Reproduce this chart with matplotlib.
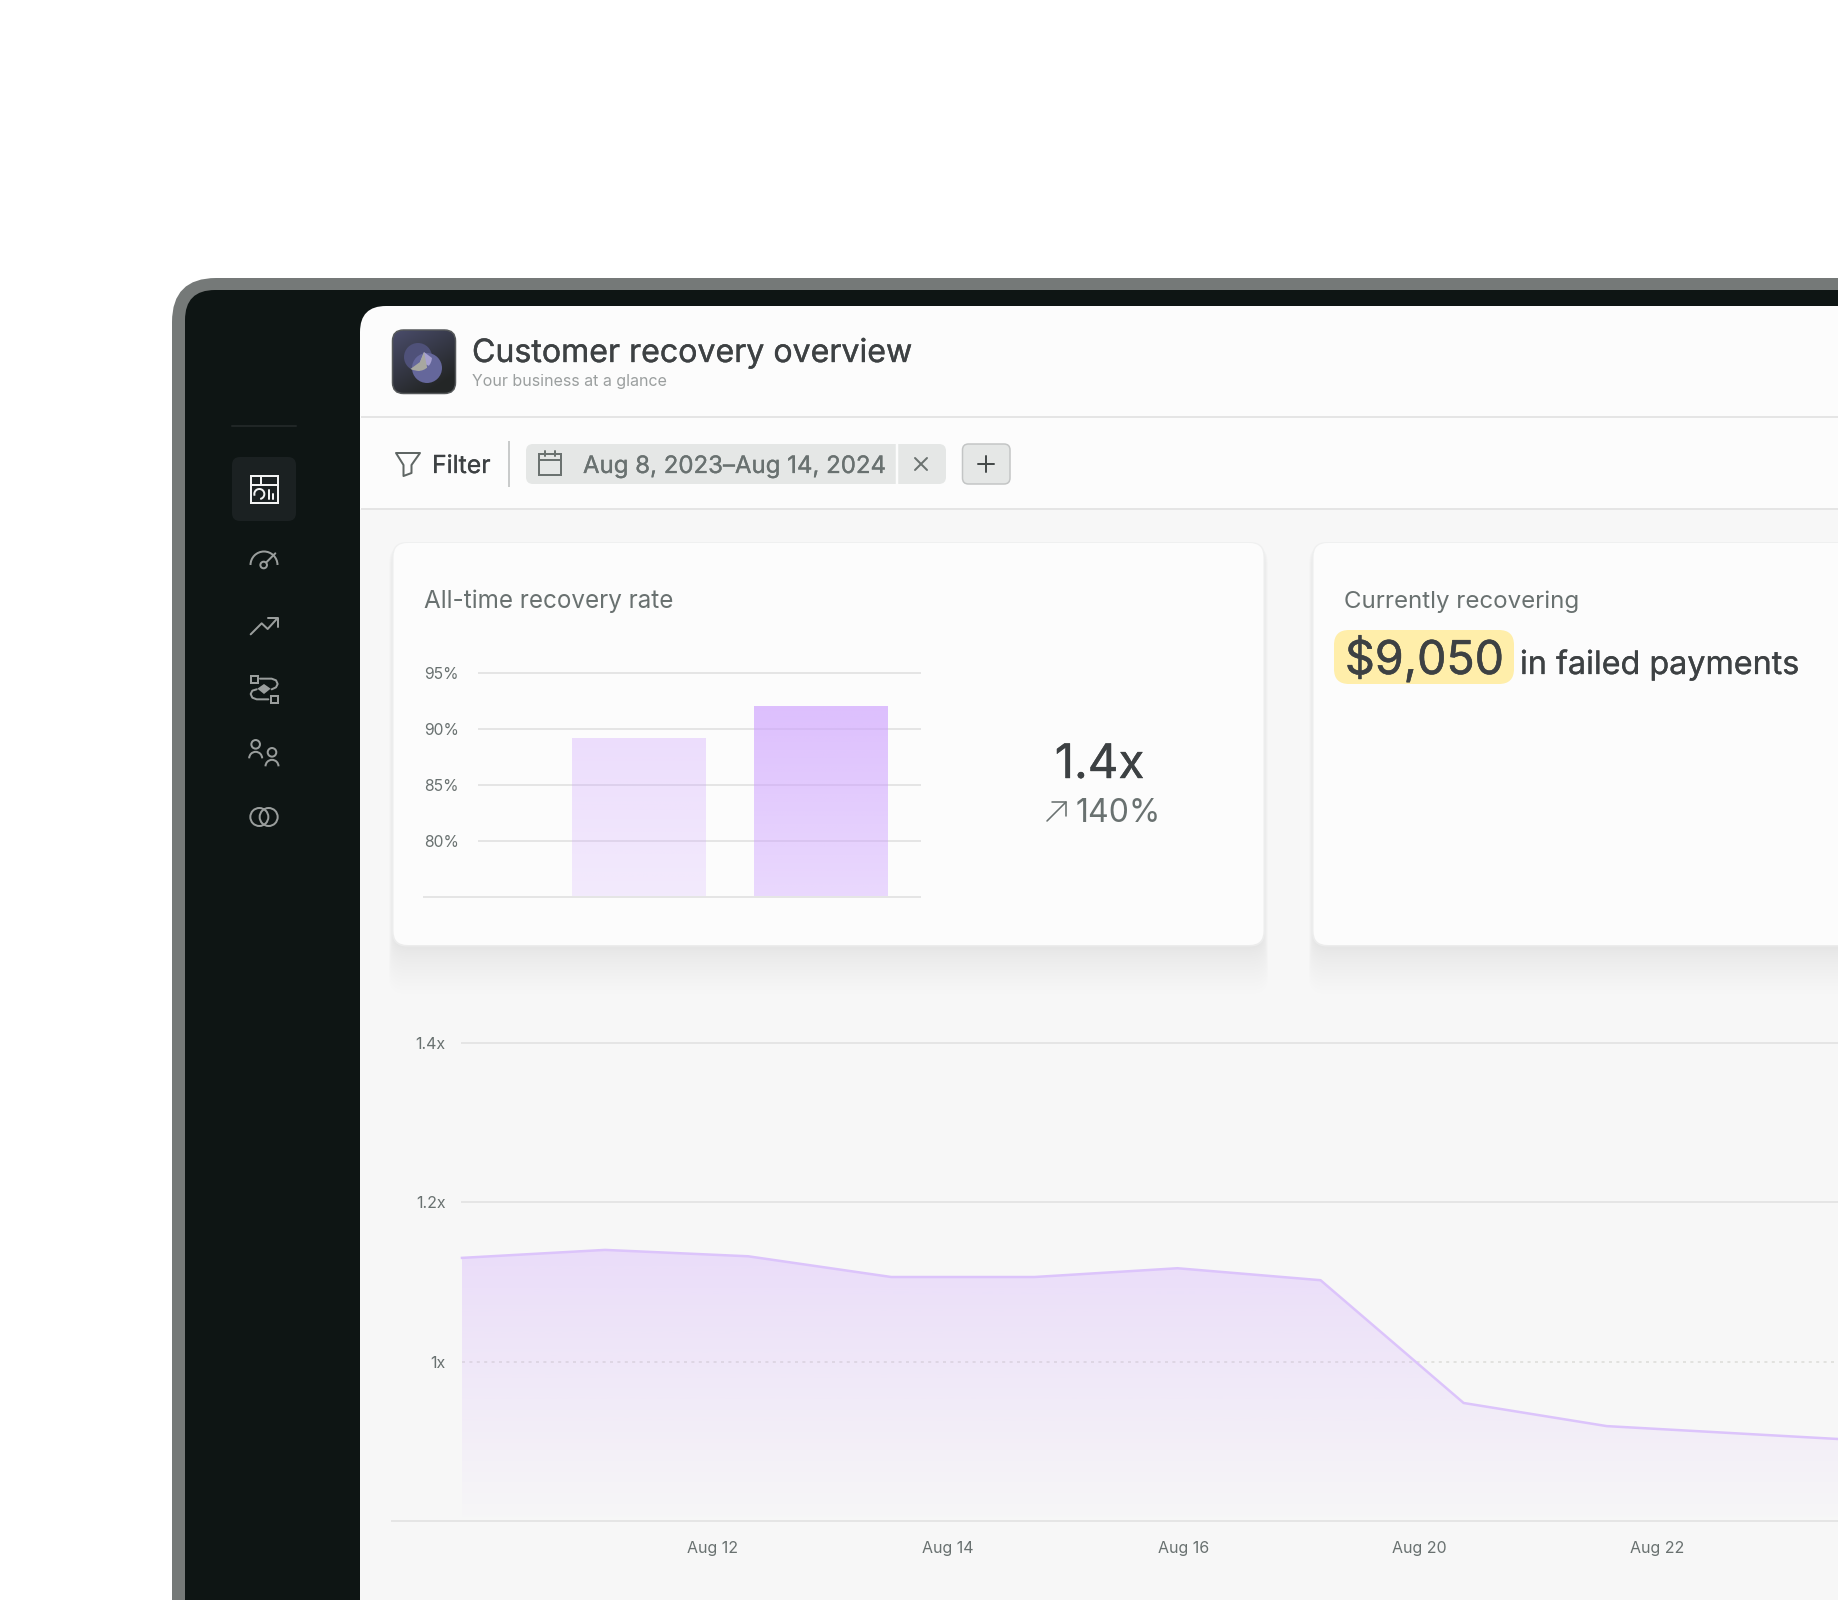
import matplotlib
matplotlib.use('Agg')
import matplotlib.pyplot as plt
from matplotlib.patches import FancyBboxPatch, Circle, Arc, Rectangle, Polygon
from matplotlib import patheffects
import numpy as np

plt.rcParams['font.family'] = ['Inter', 'DejaVu Sans']

W, H = 1838, 1600

# bar chart values
rate_ticks = [80, 85, 90, 95]
rate_labels = ['80%', '85%', '90%', '95%']
rate_bars = [89.15, 92.05]

# area chart values
multiplier = [1.130, 1.140, 1.132, 1.106, 1.106, 1.117, 1.102, 0.948, 0.919, 0.909, 0.899]
mult_ticks = [1.0, 1.2, 1.4]
mult_labels = ['1x', '1.2x', '1.4x']
date_labels = ['Aug 12', 'Aug 14', 'Aug 16', 'Aug 20', 'Aug 22']
date_ticks = [1.752, 3.392, 5.04, 6.69, 8.355]

INK = '#3d4143'
MUTED = '#697170'
GRID = '#e5e5e5'
ICON = '#9a9e9d'
PURPLE = (0.80, 0.62, 1.0)


def px(size):
    return size * 0.72


def rrect(ax, x0, y0, x1, y1, r, fc, ec='none', lw=0, alpha=None, z=1):
    p = FancyBboxPatch((x0, y0), x1 - x0, y1 - y0, boxstyle=f'round,pad=0,rounding_size={r}',
                       fc=fc, ec=ec, lw=lw, alpha=alpha, zorder=z)
    ax.add_patch(p)
    return p


def label(ax, x, y, s, size, color, ha='left', z=5, heavy=0.0):
    t = ax.text(x, y, s, fontsize=px(size), color=color, ha=ha, va='baseline', zorder=z)
    if heavy:
        t.set_path_effects([patheffects.withStroke(linewidth=heavy, foreground=color)])
    return t


def stroke(ax, xs, ys, color=ICON, lw=2.0, z=5):
    ax.plot(xs, ys, color=color, lw=px(lw), solid_capstyle='round', solid_joinstyle='round', zorder=z)


def panel_axes(fig, x0, y0, x1, y1):
    a = fig.add_axes([x0 / W, 1 - y1 / H, (x1 - x0) / W, (y1 - y0) / H])
    a.patch.set_alpha(0)
    for s in ['top', 'left', 'right']:
        a.spines[s].set_visible(False)
    a.spines['bottom'].set_color(GRID)
    a.spines['bottom'].set_linewidth(px(2))
    return a


def gradient(ax, path, trans, extent, top, bottom, z=2):
    arr = np.linspace(top, bottom, 256)[:, None, :]
    im = ax.imshow(arr, extent=extent, aspect='auto', origin='upper', zorder=z)
    im.set_clip_path(path, trans)
    return im


def draw_icons(ui):
    # coordinates follow the 3x zoom of the sidebar
    zx = lambda v: 220 + np.asarray(v) / 3
    zy = lambda v: 410 + np.asarray(v) / 3

    # dashboard
    white = '#f2f3f3'
    ui.add_patch(Rectangle((zx(92), zy(198)), 27, 27, fc='none', ec=white, lw=px(2), zorder=5))
    stroke(ui, zx([92, 172]), zy([224, 224]), white)
    stroke(ui, zx([122, 122]), zy([198, 224]), white)
    ui.add_patch(Arc((zx(118), zy(252)), 10, 10, theta1=-200, theta2=80, color=white, lw=px(2), zorder=5))
    stroke(ui, zx([148, 148]), zy([240, 266]), white)
    stroke(ui, zx([160, 160]), zy([252, 266]), white)

    # gauge
    ui.add_patch(Arc((zx(132), zy(465)), 27, 27, theta1=180, theta2=360, color=ICON, lw=px(2), zorder=5))
    ui.add_patch(Circle((zx(131), zy(465)), 3.3, fc='#0e1514', ec=ICON, lw=px(2), zorder=6))
    stroke(ui, zx([136, 166]), zy([460, 430]))

    # trend
    stroke(ui, zx([92, 125, 143, 172]), zy([673, 640, 657, 625]))
    stroke(ui, zx([145, 173, 173]), zy([623, 623, 652]))

    # flow
    for qx, qy in [(92, 798), (152, 858)]:
        ui.add_patch(Rectangle((zx(qx), zy(qy)), 7, 7, fc='none', ec=ICON, lw=px(2), zorder=5))
    ui.add_patch(Polygon(np.column_stack([zx([112, 132, 152, 132]), zy([836, 822, 836, 852])]), fc=ICON, ec='none', zorder=5))
    stroke(ui, zx([120, 155, 168, 173, 168, 155]), zy([806, 806, 811, 822, 832, 838]))
    stroke(ui, zx([145, 110, 97, 92, 97, 110]), zy([868, 868, 863, 852, 842, 838]))

    # people
    for cx, cy in [(107, 1003), (156, 1027)]:
        ui.add_patch(Circle((zx(cx), zy(cy)), 4.3, fc='none', ec=ICON, lw=px(2), zorder=5))
        ui.add_patch(Arc((zx(cx), zy(cy + 42)), 13, 13, theta1=180, theta2=360, color=ICON, lw=px(2), zorder=5))

    # rings
    for cx in [118, 146]:
        ui.add_patch(Circle((zx(cx), zy(1221)), 9, fc='none', ec=ICON, lw=px(2), zorder=5))


def draw_logo(ui):
    box = rrect(ui, 392.5, 330, 455.5, 393.5, 11, 'none', ec='#55585a', lw=px(1.5), z=4)
    # diagonal wash: blue at top left, near black at bottom right
    u, v = np.meshgrid(np.linspace(0, 1, 64), np.linspace(0, 1, 64))
    t = np.clip((u * 0.6 + v) / 1.3, 0, 1)[..., None]
    arr = (1 - t) * np.array([0.29, 0.30, 0.42]) + t * np.array([0.14, 0.15, 0.15])
    im = ui.imshow(arr, extent=(392, 456, 394, 330), aspect='auto', zorder=3)
    im.set_clip_path(box)
    c1 = Circle((418, 357), 14, fc='#4f5179', zorder=4)
    c2 = Circle((427, 368), 15, fc='#65679b', zorder=4)
    ui.add_patch(c1)
    ui.add_patch(c2)
    # overlap of the two discs, grey on the left and lilac on the right
    gray = Polygon([(420, 362), (409, 370), (428, 372), (424, 352)], fc='#a8a8a0', zorder=5)
    lilac = Polygon([(420, 362), (424, 352), (432, 358), (434, 368)], fc='#a6a0cf', zorder=5)
    ui.add_patch(lilac)
    ui.add_patch(gray)
    overlap = Circle((418, 357), 14, transform=ui.transData)
    gray.set_clip_path(overlap)
    lilac.set_clip_path(overlap)


def draw_ui(ui):
    # device frame
    rrect(ui, 172, 278, 2300, 2100, 44, '#757978')
    rrect(ui, 185, 290, 2300, 2100, 30, '#0e1514')
    rrect(ui, 360, 306, 2300, 2100, 26, '#fcfcfc')
    ui.add_patch(Rectangle((360, 509), 1600, 1200, fc='#f7f7f7', zorder=1))

    # sidebar
    ui.plot([232, 296], [425.5, 425.5], color='#262c2c', lw=px(1.5), zorder=2)
    rrect(ui, 232, 457, 296, 521, 8, '#1b2122', z=2)
    draw_icons(ui)

    # header
    draw_logo(ui)
    label(ui, 472, 362, 'Customer recovery overview', 32.1, INK, heavy=0.25)
    label(ui, 472, 386, 'Your business at a glance', 16, '#9b9f9f')
    ui.plot([361, W], [417, 417], color=GRID, lw=px(2), solid_capstyle='butt', zorder=2)
    ui.plot([361, W], [509, 509], color=GRID, lw=px(2), solid_capstyle='butt', zorder=2)

    # filter row
    funnel = [(396, 453), (420, 453), (411.5, 465), (411.5, 473), (403.5, 476), (403.5, 465)]
    ui.add_patch(Polygon(funnel, closed=True, fc='none', ec='#5f6664', lw=px(2), joinstyle='round', zorder=5))
    label(ui, 432, 473, 'Filter', 24.8, INK, heavy=0.2)
    ui.plot([509, 509], [442, 486], color='#c9cbcb', lw=px(2), zorder=2)
    rrect(ui, 526, 444, 946, 484, 7, '#e5e7e6', z=2)
    ui.plot([897, 897], [444, 484], color='#fcfcfc', lw=px(2.5), solid_capstyle='butt', zorder=3)
    ui.add_patch(Rectangle((539, 454), 22, 21, fc='none', ec='#6b7270', lw=px(2), zorder=5))
    stroke(ui, [539, 561], [460, 460], '#6b7270')
    stroke(ui, [545, 545], [451, 456], '#6b7270')
    stroke(ui, [555, 555], [451, 456], '#6b7270')
    label(ui, 583, 473, 'Aug 8, 2023\u2013Aug 14, 2024', 24, MUTED, heavy=0.2)
    stroke(ui, [915, 927], [458, 470], '#6b7270')
    stroke(ui, [915, 927], [470, 458], '#6b7270')
    rrect(ui, 962.5, 444, 1010, 484, 6, '#e5e7e6', ec='#c3c5c5', lw=px(1.5), z=2)
    stroke(ui, [978, 994], [464, 464], '#454a4a')
    stroke(ui, [986, 986], [456, 472], '#454a4a')

    # cards with soft shadows
    for x0, x1 in [(393.5, 1263.5), (1313.5, 2100)]:
        for k in range(18, 0, -1):
            drop = 3 + k ** 1.5 * 0.6
            rrect(ui, x0 - k * 0.25, 546, x1 + k * 0.25, 945 + drop, 16, '#6b7070', alpha=0.0045, z=2)
        rrect(ui, x0 - 1.5, 542, x1 + 1.5, 946.5, 15, '#eeefef', alpha=0.8, z=2)
        rrect(ui, x0, 543, x1, 945, 14, '#fcfcfc', z=2)

    label(ui, 424, 608, 'All-time recovery rate', 24.2, MUTED)
    label(ui, 1099.5, 778, '1.4x', 47.5, INK, ha='center', heavy=0.3)
    stroke(ui, [1047, 1066], [821, 802], MUTED, lw=1.6)
    stroke(ui, [1052, 1066, 1066], [802, 802, 816], MUTED, lw=1.6)
    label(ui, 1076, 822, '140%', 32, MUTED)

    label(ui, 1344.5, 608, 'Currently recovering', 24.1, MUTED)
    rrect(ui, 1334, 630, 1514, 684, 15, '#ffeeaa', z=3)
    label(ui, 1345, 674, '$9,050', 46.5, INK, heavy=0.4)
    label(ui, 1520, 674, 'in failed payments', 32.3, INK, heavy=0.2)


fig = plt.figure(figsize=(W / 100, H / 100), dpi=100, facecolor='white')
ui = fig.add_axes([0, 0, 1, 1])
ui.set_axis_off()
draw_ui(ui)
ui.set_xlim(0, W)
ui.set_ylim(H, 0)

# bar chart card
ax = panel_axes(fig, 424, 672.7, 920, 896.7)
bar_pos = np.arange(len(rate_bars))
for v in rate_ticks:
    ax.axhline(v, xmin=0.111, color=GRID, lw=px(2), zorder=1, clip_on=False)
bars = ax.bar(bar_pos, rate_bars, width=0.736, color='none', zorder=2)
bar_tones = [(PURPLE + (0.33,), PURPLE + (0.19,)),
             (PURPLE + (0.65,), PURPLE + (0.38,))]
for b, (top, bottom) in zip(bars, bar_tones):
    ext = (b.get_x(), b.get_x() + b.get_width(), 75, b.get_height())
    gradient(ax, b.get_path(), b.get_transform(), ext, top, bottom)
ax.set_xlim(-1.181, 1.544)
ax.set_ylim(75, 95)
ax.set_xticks([])
ax.set_yticks(rate_ticks, rate_labels, ha='left', color=MUTED, fontsize=px(15.7))
ax.tick_params(axis='y', length=0, pad=0)

# area chart
ax2 = panel_axes(fig, 392, 1042.6, W, 1521)
point_pos = np.arange(len(multiplier))
for v in mult_ticks:
    if v == 1.0:
        ax2.axhline(v, xmin=0.0484, color='#e2e2df', lw=px(2), dashes=(1.5, 2.2), zorder=1)
    else:
        ax2.axhline(v, xmin=0.0484, color=GRID, lw=px(2), zorder=1, clip_on=False)
area = ax2.fill_between(point_pos, multiplier, 0.805, color='none', zorder=2)
gradient(ax2, area.get_paths()[0], ax2.transData, (0, point_pos[-1], 0.805, max(multiplier)),
         PURPLE + (0.30,), PURPLE + (0.01,))
ax2.plot(point_pos, multiplier, color='#dcc4fb', lw=px(2.5), zorder=3)
ax2.set_xlim(-0.489, 9.616)
ax2.set_ylim(0.8, 1.4)
ax2.set_yticks(mult_ticks, mult_labels, color=MUTED, fontsize=px(16))
ax2.set_xticks(date_ticks, date_labels, color=MUTED, fontsize=px(16))
ax2.tick_params(axis='y', length=0, pad=-38.5)
ax2.tick_params(axis='x', length=0, pad=14.5)

fig.savefig('out.png', dpi=100, facecolor='white')
plt.close(fig)
